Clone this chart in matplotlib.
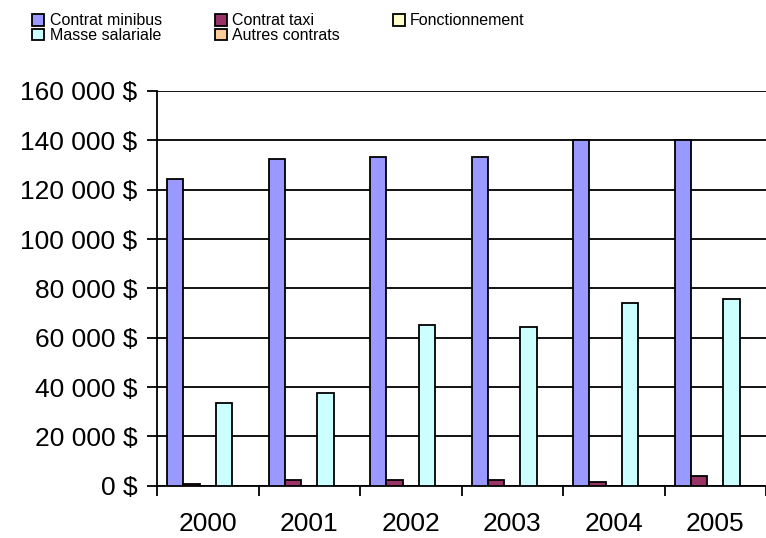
import numpy as np
import matplotlib.pyplot as plt
from matplotlib.ticker import FuncFormatter

plt.rcParams['font.family'] = ['Liberation Sans', 'DejaVu Sans']

# Data
years = ['2000', '2001', '2002', '2003', '2004', '2005']
series = ['Contrat minibus', 'Contrat taxi', 'Fonctionnement',
          'Masse salariale', 'Autres contrats']
minibus = [124500, 132500, 133400, 133400, 140000, 140000]
taxi = [800, 2300, 2300, 2300, 1600, 3800]
fonctionnement = [0, 0, 0, 0, 0, 0]
masse = [33500, 37600, 65000, 64200, 74000, 75500]
autres = [0, 0, 0, 0, 0, 0]
colors = ['#9999FF', '#993366', '#FFFFCC', '#CCFFFF', '#FFCC99']

values = [minibus, taxi, fonctionnement, masse, autres]

fig = plt.figure(figsize=(7.66, 5.38), dpi=100)
ax = fig.add_axes([0.205, 0.097, 0.795, 0.734])

x = np.arange(len(years))
w = 0.16
handles = []
for i, (name, vals, c) in enumerate(zip(series, values, colors)):
    b = ax.bar(x + (i - 2) * w, vals, width=w, color=c, edgecolor='black',
               linewidth=1.3, label=name, zorder=3)
    handles.append(b)

ax.set_xlim(-0.5, len(years) - 0.5)
ax.set_ylim(0, 160000)
ax.set_yticks(np.arange(0, 160001, 20000))
ax.yaxis.set_major_formatter(FuncFormatter(
    lambda v, p: ('{:,.0f}'.format(v).replace(',', ' ')) + ' $'))
ax.grid(axis='y', color='black', linewidth=1.3, zorder=0)

ax.set_xticks(x)
ax.set_xticklabels(years)
ax.set_xticks(np.arange(-0.5, len(years)), minor=True)
ax.tick_params(axis='x', which='major', length=0, labelsize=19, pad=19)
ax.tick_params(axis='x', which='minor', length=7, width=1.3, direction='out')
ax.tick_params(axis='y', length=7, width=1.3, labelsize=19, pad=7)

for s in ['top', 'right']:
    ax.spines[s].set_visible(False)
for s in ['left', 'bottom']:
    ax.spines[s].set_linewidth(1.3)

order = [0, 3, 1, 4, 2]
fig.legend([handles[i] for i in order], [series[i] for i in order],
           ncol=3, loc='upper left', bbox_to_anchor=(0.042, 0.975),
           frameon=False, fontsize=11.5, handlelength=0.75, handleheight=0.75,
           handletextpad=0.35, columnspacing=3.3, labelspacing=-0.02,
           borderpad=0, borderaxespad=0)

fig.savefig('out.png', dpi=100)
